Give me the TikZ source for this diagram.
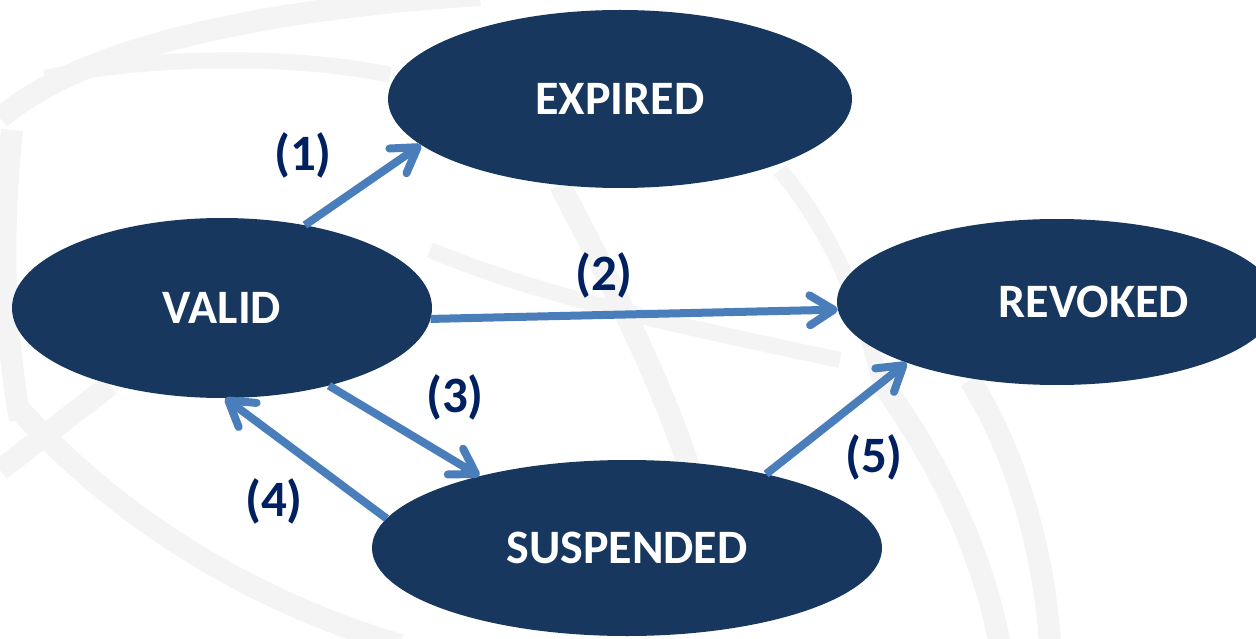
\documentclass[tikz,border=0pt]{standalone}
\usepackage{fontspec}
\setmainfont{Carlito}
\usetikzlibrary{shapes.geometric,arrows.meta}

\definecolor{statefill}{HTML}{17375E}
\definecolor{arrowblue}{HTML}{4A7EBB}
\definecolor{labelnavy}{HTML}{002060}
\definecolor{watermark}{HTML}{F4F4F4}

\tikzset{
  state/.style={ellipse, fill=statefill, draw=none, inner sep=0pt,
    text=white, font=\fontsize{48}{54}\selectfont\bfseries},
  trans/.style={draw=arrowblue, line width=8pt,
    -{Straight Barb[length=24pt, width=30pt, round]}},
  translabel/.style={text=labelnavy, inner sep=0pt,
    font=\fontsize{51}{56}\selectfont\bfseries},
  globeline/.style={draw=watermark, line width=22pt},
}

\begin{document}
\begin{tikzpicture}[x=1pt, y=-1pt]
  \useasboundingbox (0,0) rectangle (1256,639);
  \fill[white] (0,0) rectangle (1256,639);

  % faint globe in the background
  \begin{scope}
    \clip (0,0) rectangle (1256,639);
    \draw[globeline] (0,118) .. controls (80,50) and (250,10) .. (480,-5);
    \draw[globeline, line width=16pt] (45,78) .. controls (150,55) and (300,55) .. (390,75);
    \draw[globeline] (12,130) .. controls (0,250) and (5,330) .. (20,420);
    \draw[globeline] (0,470) -- (110,385);
    \draw[globeline] (20,410) .. controls (120,520) and (250,600) .. (400,645);
    \draw[globeline] (880,380) .. controls (930,450) and (980,540) .. (1000,645);
    \draw[globeline] (970,380) .. controls (1020,460) and (1045,560) .. (1050,645);
    \draw[globeline] (560,185) .. controls (620,300) and (660,380) .. (690,470);
    \draw[globeline, line width=16pt] (430,250) .. controls (550,300) and (700,330) .. (840,360);
    \draw[globeline, line width=16pt] (780,170) .. controls (830,230) and (860,300) .. (880,380);
  \end{scope}

  % states
  \node[state, minimum width=464pt, minimum height=178pt] (expired) at (620,99) {EXPIRED};
  \node[state, minimum width=420pt, minimum height=180pt] (valid) at (222,308) {VALID};
  \node[state, minimum width=440pt, minimum height=166pt,
        label={[state, xshift=37pt, fill=none]center:REVOKED}] (revoked) at (1057,302) {};
  \node[state, minimum width=510pt, minimum height=176pt] (suspended) at (627,548) {SUSPENDED};

  % transitions
  \draw[trans] (valid.45) -- (expired.193);
  \draw[trans] (valid.-3) -- (revoked.182);
  \draw[trans] (valid.-36) -- (suspended.154);
  \draw[trans] (suspended.173) -- (valid.-88);
  \draw[trans] (suspended.28) -- (revoked.-158);

  % transition numbers
  \node[translabel] (l1) at (303,155) {(1)};
  \node[translabel] (l2) at (604,275) {(2)};
  \node[translabel] (l3) at (455,397) {(3)};
  \node[translabel] (l4) at (274,501) {(4)};
  \node[translabel] (l5) at (874,457) {(5)};
\end{tikzpicture}
\end{document}
